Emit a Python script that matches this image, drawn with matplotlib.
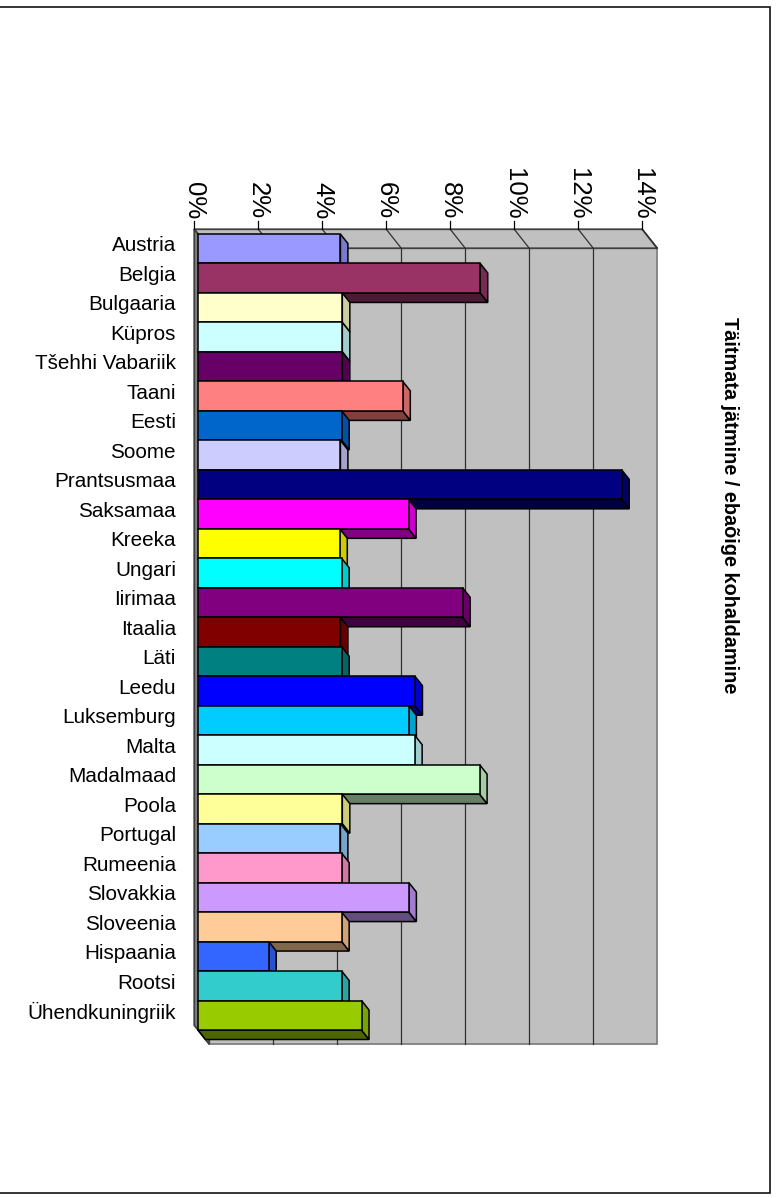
import matplotlib.pyplot as plt
from matplotlib.patches import Polygon, Rectangle
import matplotlib.colors as mcolors
import numpy as np

plt.rcParams['font.family'] = ['Liberation Sans', 'DejaVu Sans']

countries = ["Austria", "Belgia", "Bulgaaria", "Küpros", "Tšehhi Vabariik", "Taani",
             "Eesti", "Soome", "Prantsusmaa", "Saksamaa", "Kreeka", "Ungari", "Iirimaa",
             "Itaalia", "Läti", "Leedu", "Luksemburg", "Malta", "Madalmaad", "Poola",
             "Portugal", "Rumeenia", "Slovakkia", "Sloveenia", "Hispaania", "Rootsi",
             "Ühendkuningriik"]
values = [4.45, 8.82, 4.51, 4.51, 4.51, 6.40, 4.49, 4.45, 13.24, 6.58, 4.43, 4.49, 8.27,
          4.45, 4.49, 6.78, 6.59, 6.77, 8.80, 4.51, 4.45, 4.49, 6.59, 4.49, 2.21, 4.49, 5.11]
colors = ["#9999FF", "#993366", "#FFFFCC", "#CCFFFF", "#660066", "#FF8080", "#0066CC",
          "#CCCCFF", "#000080", "#FF00FF", "#FFFF00", "#00FFFF", "#800080", "#800000",
          "#008080", "#0000FF", "#00CCFF", "#CCFFFF", "#CCFFCC", "#FFFF99", "#99CCFF",
          "#FF99CC", "#CC99FF", "#FFCC99", "#3366FF", "#33CCCC", "#99CC00"]
ticks = [0, 2, 4, 6, 8, 10, 12, 14]
title = "Täitmata jätmine / ebaõige kohaldamine"

W, H = 778, 1198
fig = plt.figure(figsize=(W / 100, H / 100), dpi=100)
ax = fig.add_axes([198 / W, 1 - 1030 / H, 448 / W, 796 / H])
ax.set_xlim(0, 14)
ax.set_ylim(len(countries) - 0.5, -0.5)
ax.axis('off')

# depth direction of the 3d box, in data units (x in %, y in categories)
DX, DY = 15 / 32, 19 / 29.48


def shift(pts, d):
    return [(x + d * DX, y + d * DY) for x, y in pts]


def shade(c, f):
    return tuple(np.array(mcolors.to_rgb(c)) * f)


n = len(countries)
top, bot = -0.5, n - 0.5
front, back = -0.25, 0.75
xmax = ticks[-1]

# back wall with gridlines
ax.add_patch(Polygon(shift([(0, top), (xmax, top), (xmax, bot), (0, bot)], back),
                     fc='#C0C0C0', ec='#808080', lw=1.3, clip_on=False, zorder=1))
for t in ticks[1:-1]:
    xs, ys = zip(*shift([(t, top), (t, bot)], back))
    ax.plot(xs, ys, color='#303030', lw=0.9, clip_on=False, zorder=1.1)

# top face
ax.add_patch(Polygon(shift([(0, top), (xmax, top)], front) + shift([(xmax, top), (0, top)], back),
                     fc='#C0C0C0', ec='#404040', lw=1.3, clip_on=False, zorder=1.2))
for t in ticks:
    xs, ys = zip(*(shift([(t, top)], front) + shift([(t, top)], back)))
    ax.plot(xs, ys, color='#303030', lw=0.9, clip_on=False, zorder=1.3)

# left face
ax.add_patch(Polygon(shift([(0, top), (0, bot)], front) + shift([(0, bot), (0, top)], back),
                     fc='#808080', ec='#404040', lw=1.3, clip_on=False, zorder=1.4))

# tick marks and labels
for t in ticks:
    (tx, ty), = shift([(t, top)], front)
    ax.plot([tx, tx], [ty, ty - 8 / 29.48], color='black', lw=0.9, clip_on=False, zorder=1.5)
    ax.text(tx, ty - 10 / 29.48, f"{t}%", rotation=270, ha='center', va='bottom',
            fontsize=18.5, clip_on=False)

# bars
for i, (name, v, c) in enumerate(zip(countries, values, colors)):
    y0, y1 = i - 0.5, i + 0.5
    z = 2 + i * 0.01
    ax.add_patch(Polygon([(0, y1), (v, y1)] + shift([(v, y1), (0, y1)], 0.5),
                         fc=shade(c, 0.5), ec='black', lw=1.1, clip_on=False, zorder=z))
    ax.add_patch(Polygon([(v, y0), (v, y1)] + shift([(v, y1), (v, y0)], 0.5),
                         fc=shade(c, 0.8), ec='black', lw=1.1, clip_on=False, zorder=z))
    ax.add_patch(Rectangle((0, y0), v, 1, fc=c, ec='black', lw=1.1, clip_on=False, zorder=z + 0.005))
    ax.text(-22 / 32, i + front * DY, name, ha='right', va='center_baseline',
            fontsize=14.9, clip_on=False)

fig.text(729 / W, 1 - 505 / H, title, rotation=270, ha='center', va='center',
         fontsize=14.3, fontweight='bold')

fig.add_artist(Rectangle((-2 / W, 1 - 1193 / H), 772 / W, 1186 / H, transform=fig.transFigure,
                         fill=False, ec='black', lw=1.1))

fig.savefig('out.png', dpi=100)
